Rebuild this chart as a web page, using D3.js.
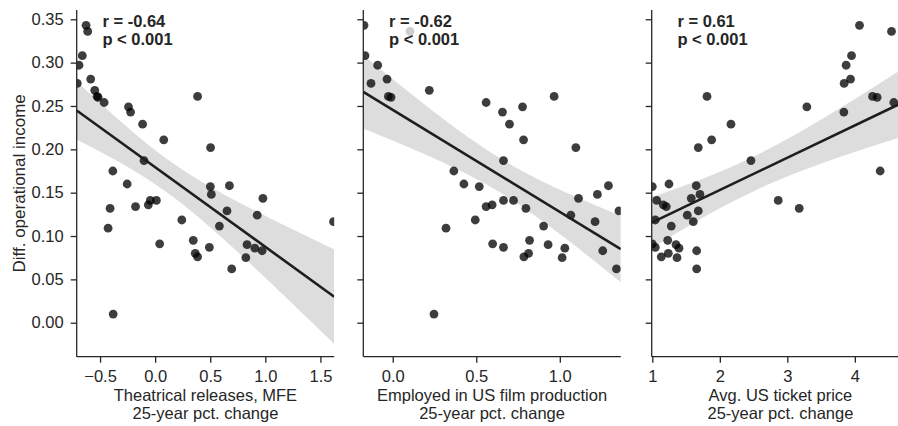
<!DOCTYPE html>
<html><head><meta charset="utf-8">
<script src="https://cdn.jsdelivr.net/npm/d3@7"></script>
<style>
html,body{margin:0;padding:0;background:#fff;}
svg{display:block;font-family:"Liberation Sans",Arial,Helvetica,sans-serif;}
</style>
</head><body>
<svg id="chart" width="898" height="426"></svg>
<script>
// ---- data (one row per observation) ----
const incomeDiff = [0.343,0.336,0.308,0.297,0.276,0.281,0.268,0.261,0.260,0.261,
  0.254,0.249,0.243,0.229,0.211,0.202,0.187,0.175,0.160,0.157,
  0.158,0.148,0.1435,0.141,0.141,0.136,0.134,0.132,0.129,0.124,
  0.1185,0.1165,0.1115,0.109,0.095,0.091,0.090,0.087,0.086,0.083,
  0.080,0.076,0.075,0.062,0.010];
const releasesChange = [-0.627,-0.612,-0.661,-0.691,-0.707,-0.585,-0.548,-0.527,-0.518,0.385,
  -0.463,-0.242,-0.223,-0.114,0.078,0.503,-0.101,-0.384,-0.254,0.501,
  0.674,0.510,0.978,-0.044,0.011,-0.062,-0.178,-0.409,0.652,0.926,
  0.242,1.619,0.583,-0.427,0.346,0.041,0.834,0.492,0.905,0.971,
  0.364,0.385,0.823,0.695,-0.381];
const employedChange = [-0.172,0.103,-0.166,-0.090,-0.130,-0.034,0.219,-0.026,-0.010,0.966,
  0.559,0.777,0.657,0.699,0.783,1.096,0.663,0.366,0.426,0.518,
  1.291,1.225,1.112,0.663,0.723,0.595,0.559,0.797,1.354,1.066,
  0.494,1.211,0.903,0.319,0.819,0.598,0.930,0.663,1.030,1.257,
  0.813,0.785,1.014,1.339,0.247];
// three observations lie just past the right edge of the image (estimated)
const ticketChange = [4.069,4.543,3.951,3.871,3.841,3.936,4.790,4.262,4.330,1.810,
  4.577,3.289,3.837,2.165,1.879,1.681,2.461,4.375,1.247,1.000,
  1.651,1.706,1.577,2.865,1.065,1.163,1.207,3.176,1.681,1.518,
  1.044,1.607,1.281,4.760,1.228,1.000,1.351,1.044,1.395,1.657,
  1.237,1.133,1.366,1.657,4.805];

const xLabels = [["Theatrical releases, MFE","25-year pct. change"],
                 ["Employed in US film production","25-year pct. change"],
                 ["Avg. US ticket price","25-year pct. change"]];
const statText = [["r = -0.64","p < 0.001"],["r = -0.62","p < 0.001"],["r = 0.61","p < 0.001"]];
const xDomains = [[-0.712,1.625],[-0.176,1.365],[0.991,4.805]];
const xTickValues = [[-0.5,0,0.5,1,1.5],[0,0.5,1],[1,2,3,4]];
const xTickFormats = [".1f",".1f","d"];
const yDomain = [-0.0392,0.3607];
const yTickValues = [0,0.05,0.10,0.15,0.20,0.25,0.30,0.35];
const yLabel = "Diff. operational income";

// ---- layout ----
const svg = d3.select("#chart");
const plotTop = 10, plotBottom = 356.7, panelW = 257.5;
const lefts = [76.7, 363.3, 651.7];
const ink = "#262626";
const y = d3.scaleLinear().domain(yDomain).range([plotBottom, plotTop]);
const xs = [releasesChange, employedChange, ticketChange];

function regress(xv, yv){
  const pts = xv.map((x,i)=>[x,yv[i]]).filter(d=>d[0]!=null);
  const n = pts.length;
  const mx = d3.mean(pts,d=>d[0]), my = d3.mean(pts,d=>d[1]);
  let sxx=0, sxy=0;
  pts.forEach(([a,b])=>{sxx+=(a-mx)**2; sxy+=(a-mx)*(b-my);});
  const b = sxy/sxx, a = my - b*mx;
  let sse=0; pts.forEach(([u,v])=>{sse+=(v-(a+b*u))**2;});
  const s = Math.sqrt(sse/(n-2));
  const t = 2.02;
  return {pts, f:x=>a+b*x, se:x=>s*Math.sqrt(1/n+(x-mx)**2/sxx), t};
}

for (let p=0; p<3; p++){
  const L = lefts[p];
  const x = d3.scaleLinear().domain(xDomains[p]).range([L, L+panelW]);
  const g = svg.append("g");
  const clipId = "clip"+p;
  svg.append("clipPath").attr("id",clipId).append("rect")
    .attr("x",L).attr("y",plotTop).attr("width",panelW).attr("height",plotBottom-plotTop);
  const plot = g.append("g").attr("clip-path",`url(#${clipId})`);
  const r = regress(xs[p], incomeDiff);

  // scatter
  plot.selectAll("circle").data(r.pts).join("circle")
    .attr("cx",d=>x(d[0])).attr("cy",d=>y(d[1])).attr("r",4.4)
    .attr("fill","#000").attr("fill-opacity",0.76);

  // CI band
  const grid = d3.range(0,101).map(i=>xDomains[p][0]+(xDomains[p][1]-xDomains[p][0])*i/100);
  plot.append("path").datum(grid)
    .attr("d", d3.area().x(d=>x(d)).y0(d=>y(r.f(d)-r.t*r.se(d))).y1(d=>y(r.f(d)+r.t*r.se(d))))
    .attr("fill","#1a1a1a").attr("fill-opacity",0.15);
  // regression line
  plot.append("path").datum(xDomains[p])
    .attr("d", d3.line().x(d=>x(d)).y(d=>y(r.f(d))))
    .attr("stroke","#1e1e1e").attr("stroke-width",2.6).attr("fill","none");

  // axes
  const xa = g.append("g").attr("transform",`translate(0,${plotBottom})`)
    .call(d3.axisBottom(x).tickValues(xTickValues[p]).tickFormat(d3.format(xTickFormats[p])).tickSizeOuter(0).tickSize(6).tickPadding(7.5));
  const ya = g.append("g").attr("transform",`translate(${L},0)`)
    .call(d3.axisLeft(y).tickValues(yTickValues).tickFormat(p===0?d3.format(".2f"):()=> "").tickSizeOuter(0).tickSize(6).tickPadding(7));
  [xa,ya].forEach(a=>{
    a.select(".domain").attr("stroke",ink).attr("stroke-width",1.3);
    a.selectAll(".tick line").attr("stroke",ink).attr("stroke-width",1.3);
    a.selectAll(".tick text").attr("fill",ink).style("font-size","16.5px").style("font-family","'Liberation Sans',Arial,sans-serif");
  });
  xa.select(".domain").attr("d",`M${L},0H${L+panelW}`);
  ya.select(".domain").attr("d",`M0,${plotTop}V${plotBottom}`);

  // x label (two lines)
  xLabels[p].forEach((t,i)=>{
    g.append("text").attr("text-anchor","middle").attr("fill",ink)
      .style("font-size","16.5px").attr("x",L+panelW/2).attr("y",400.8+i*18.5).text(t);
  });

  // stat annotation with translucent white box
  const ann = g.append("g");
  const box = ann.append("rect");
  const lines = statText[p].map((t,i)=>ann.append("text").attr("fill",ink)
    .style("font-size","16.5px").style("font-weight","bold")
    .attr("x",L+0.1*panelW).attr("y",26.6+i*18.4).text(t));
  const bbs = lines.map(l=>l.node().getBBox());
  const bx0 = d3.min(bbs,b=>b.x), by0 = d3.min(bbs,b=>b.y);
  const bx1 = d3.max(bbs,b=>b.x+b.width), by1 = d3.max(bbs,b=>b.y+b.height);
  box.attr("x",bx0-4).attr("y",by0-2).attr("width",bx1-bx0+8).attr("height",by1-by0+4)
    .attr("fill","#fff").attr("fill-opacity",0.75);
}

// y label
svg.append("text").attr("transform",`translate(25,${(plotTop+plotBottom)/2}) rotate(-90)`)
  .attr("text-anchor","middle").attr("fill",ink).style("font-size","17px").text(yLabel);
</script>
</body></html>
